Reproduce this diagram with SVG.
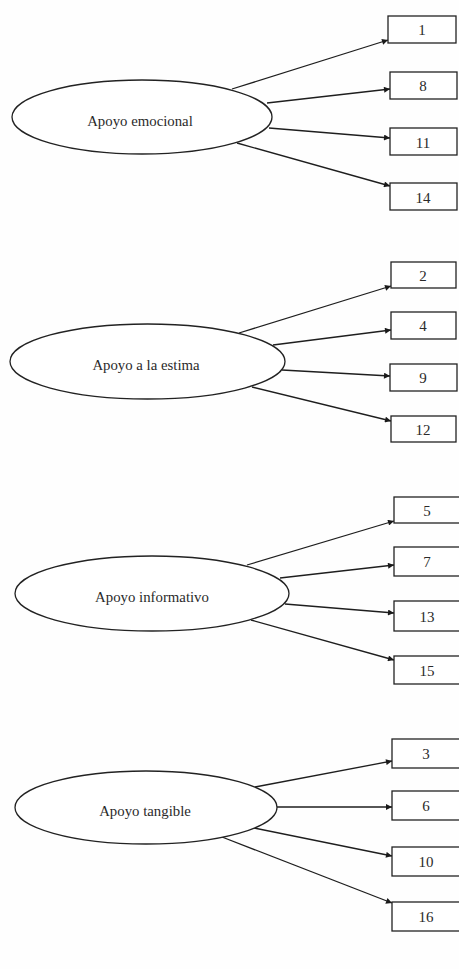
<svg xmlns="http://www.w3.org/2000/svg" width="459" height="969" viewBox="0 0 459 969">
<defs>
<marker id="ah" viewBox="0 0 10 10" refX="10" refY="5" markerWidth="8" markerHeight="6" markerUnits="userSpaceOnUse" orient="auto">
<path d="M0,0 L10,5 L0,10 z" fill="#1a1a1a"/>
</marker>
</defs>
<style>
.bg{fill:#fefefe}
.el{fill:#fff;stroke:#222;stroke-width:1.3}
.bx{fill:#fff;stroke:#222;stroke-width:1.3}
.lbl{font-family:"Liberation Serif",serif;font-size:14.8px;fill:#2a2a2a;text-anchor:middle}
.num{font-family:"Liberation Serif",serif;font-size:15px;fill:#2a2a2a;text-anchor:middle}
.cn line{stroke:#1e1e1e;stroke-width:1.3;marker-end:url(#ah)}
</style>
<rect class="bg" x="0" y="0" width="459" height="969"/>

<g id="connectors" class="cn">
<line x1="232" y1="89" x2="388" y2="40"/>
<line x1="267" y1="103" x2="390" y2="89"/>
<line x1="269" y1="128" x2="390" y2="138"/>
<line x1="237" y1="143" x2="390" y2="186"/>

<line x1="239" y1="333" x2="391" y2="286"/>
<line x1="273" y1="345" x2="391" y2="330"/>
<line x1="282" y1="370" x2="390" y2="376"/>
<line x1="252" y1="387" x2="391" y2="421"/>

<line x1="247" y1="565" x2="394" y2="521"/>
<line x1="280" y1="578" x2="394" y2="565"/>
<line x1="285" y1="604" x2="394" y2="613"/>
<line x1="251" y1="620" x2="394" y2="660"/>

<line x1="255" y1="787" x2="392" y2="761"/>
<line x1="277" y1="807" x2="392" y2="807"/>
<line x1="254" y1="828" x2="392" y2="856"/>
<line x1="222" y1="837" x2="392" y2="903"/>
</g>

<g id="apoyo-emocional"><ellipse class="el" cx="142" cy="117" rx="130" ry="37"/><text class="lbl" x="140" y="126">Apoyo emocional</text></g>
<g id="item-1"><rect class="bx" x="388" y="16" width="68" height="27"/><text class="num" x="422" y="35">1</text></g>
<g id="item-8"><rect class="bx" x="390" y="72" width="67" height="27"/><text class="num" x="423" y="91">8</text></g>
<g id="item-11"><rect class="bx" x="390" y="128" width="67" height="27"/><text class="num" x="423" y="148">11</text></g>
<g id="item-14"><rect class="bx" x="390" y="183" width="67" height="27"/><text class="num" x="423" y="203">14</text></g>

<g id="apoyo-estima"><ellipse class="el" cx="147.5" cy="361.5" rx="137.5" ry="37.5"/><text class="lbl" x="146" y="370">Apoyo a la estima</text></g>
<g id="item-2"><rect class="bx" x="391" y="262" width="65" height="26"/><text class="num" x="423" y="281">2</text></g>
<g id="item-4"><rect class="bx" x="391" y="312" width="65" height="27"/><text class="num" x="423" y="331">4</text></g>
<g id="item-9"><rect class="bx" x="390" y="364" width="67" height="27"/><text class="num" x="423" y="383">9</text></g>
<g id="item-12"><rect class="bx" x="391" y="416" width="65" height="26"/><text class="num" x="423" y="435">12</text></g>

<g id="apoyo-informativo"><ellipse class="el" cx="152" cy="593.5" rx="137" ry="37.5"/><text class="lbl" x="152" y="602">Apoyo informativo</text></g>
<g id="item-5"><rect class="bx" x="394" y="497" width="68" height="26"/><text class="num" x="427" y="516">5</text></g>
<g id="item-7"><rect class="bx" x="394" y="547" width="68" height="29"/><text class="num" x="427" y="567">7</text></g>
<g id="item-13"><rect class="bx" x="394" y="601" width="68" height="30"/><text class="num" x="427" y="622">13</text></g>
<g id="item-15"><rect class="bx" x="394" y="656" width="68" height="28"/><text class="num" x="427" y="676">15</text></g>

<g id="apoyo-tangible"><ellipse class="el" cx="146" cy="807.5" rx="131" ry="36.5"/><text class="lbl" x="145" y="816">Apoyo tangible</text></g>
<g id="item-3"><rect class="bx" x="392" y="739" width="68" height="29"/><text class="num" x="426" y="759">3</text></g>
<g id="item-6"><rect class="bx" x="392" y="791" width="68" height="29"/><text class="num" x="426" y="811">6</text></g>
<g id="item-10"><rect class="bx" x="392" y="847" width="68" height="29"/><text class="num" x="426" y="867">10</text></g>
<g id="item-16"><rect class="bx" x="392" y="902" width="68" height="29"/><text class="num" x="426" y="922">16</text></g>
</svg>
